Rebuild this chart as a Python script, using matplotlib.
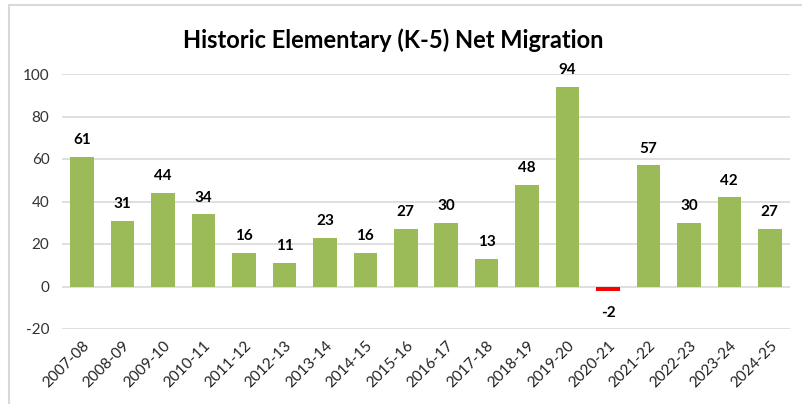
import matplotlib
matplotlib.use("Agg")
import matplotlib.pyplot as plt
from matplotlib.patches import Rectangle

categories = ["2007-08", "2008-09", "2009-10", "2010-11", "2011-12", "2012-13",
              "2013-14", "2014-15", "2015-16", "2016-17", "2017-18", "2018-19",
              "2019-20", "2020-21", "2021-22", "2022-23", "2023-24", "2024-25"]
values = [61, 31, 44, 34, 16, 11, 23, 16, 27, 30, 13, 48, 94, -2, 57, 30, 42, 27]
yticks = [-20, 0, 20, 40, 60, 80, 100]
title = "Historic Elementary (K-5) Net Migration"

plt.rcParams['font.family'] = ['Lato', 'DejaVu Sans']

fig = plt.figure(figsize=(8.02, 4.04), dpi=100)
fig.patch.set_facecolor("white")
ax = fig.add_axes([62/802, 1-329/404, (790-62)/802, (329-74)/404])

x = list(range(len(categories)))
colors = ["#FF0000" if v < 0 else "#9BBB59" for v in values]
ax.bar(x, values, width=0.58, color=colors, zorder=3)

for xi, v in zip(x, values):
    if v >= 0:
        ax.annotate(str(v), (xi, v), xytext=(0, 7), textcoords="offset points",
                    ha="center", va="bottom", fontsize=11, fontweight="bold", color="#000000")
    else:
        ax.annotate(str(v), (xi, v), xytext=(0, -11), textcoords="offset points",
                    ha="center", va="top", fontsize=11, fontweight="bold", color="#000000")

ax.set_ylim(-20, 100)
ax.set_xlim(-0.5, len(categories) - 0.5)
ax.set_yticks(yticks)
ax.set_yticklabels([str(t) for t in yticks], fontsize=11, color="#333333")
ax.set_xticks(x)
ax.set_xticklabels(categories, rotation=45, ha="right", rotation_mode="anchor",
                   fontsize=11, color="#222222")
ax.tick_params(axis="both", length=0)
ax.tick_params(axis="y", pad=9)
ax.tick_params(axis="x", pad=7)
ax.grid(axis="y", color="#D9D9D9", linewidth=1.2, zorder=0)
for s in ax.spines.values():
    s.set_visible(False)

fig.text(393/802, 1-40/404, title, ha="center", va="center", fontsize=17,
         fontweight="bold", color="#000000")

border = Rectangle((9/802, -0.05), 1.1, 1-5/404+0.05, transform=fig.transFigure,
                   fill=False, edgecolor="#D9D9D9", linewidth=1.5)
fig.patches.append(border)

fig.savefig("out.png", dpi=100, facecolor="white")
